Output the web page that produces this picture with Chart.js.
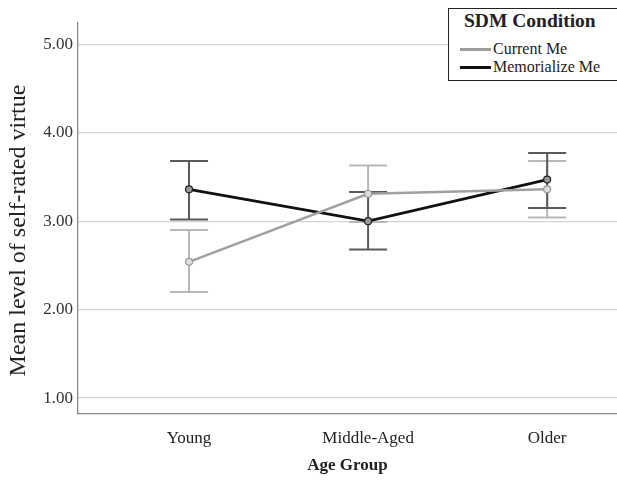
<!DOCTYPE html>
<html>
<head>
<meta charset="utf-8">
<script src="https://cdn.jsdelivr.net/npm/chart.js@4"></script>
<style>
  html, body { margin: 0; padding: 0; background: #fff; }
  #wrap { position: relative; width: 617px; height: 480px; overflow: hidden; }
  canvas { display: block; }
  #legend { position: absolute; left: 448px; top: 8px; width: 180px; height: 71px;
    border: 1.5px solid #222; background: #fff; font-family: "Liberation Serif", "DejaVu Serif", serif; color: #222; }
  #legend .t { position: absolute; left: 15px; top: 1px; font-weight: bold; font-size: 19.5px; }
  #legend .e { position: absolute; left: 11px; font-size: 16px; white-space: nowrap; }
  #legend .e span.s { display: inline-block; width: 31px; height: 3px; vertical-align: middle; margin-right: 2px; position: relative; top: -1px; }
</style>
</head>
<body>
<div id="wrap">
  <canvas id="c" width="617" height="480"></canvas>
  <div id="legend">
    <div class="t">SDM Condition</div>
    <div class="e" style="top:31px"><span class="s" style="background:#9e9e9e"></span>Current Me</div>
    <div class="e" style="top:49px"><span class="s" style="background:#111"></span>Memorialize Me</div>
  </div>
</div>
<script>
const categories = ["Young", "Middle-Aged", "Older"];
const yTicks = [1, 2, 3, 4, 5];
const currentMean = [2.54, 3.31, 3.36];
const currentLow = [2.20, 2.99, 3.04];
const currentHigh = [2.90, 3.63, 3.68];
const memorialMean = [3.36, 3.00, 3.47];
const memorialLow = [3.02, 2.68, 3.15];
const memorialHigh = [3.68, 3.33, 3.77];

const serif = '"Liberation Serif", "DejaVu Serif", serif';

function toPts(arr) { return arr.map((v, i) => ({ x: i + 1, y: v })); }

const errorBars = {
  id: 'errorBars',
  beforeDatasetsDraw(chart) {
    const ctx = chart.ctx;
    const xs = chart.scales.x, ys = chart.scales.y;
    const sets = [
      { lo: currentLow, hi: currentHigh, color: '#b8b8b8' },
      { lo: memorialLow, hi: memorialHigh, color: '#5a5a5a' }
    ];
    ctx.save();
    ctx.lineWidth = 2;
    sets.forEach(s => {
      ctx.strokeStyle = s.color;
      s.lo.forEach((lo, i) => {
        const x = xs.getPixelForValue(i + 1);
        const y1 = ys.getPixelForValue(lo);
        const y2 = ys.getPixelForValue(s.hi[i]);
        const hw = 19;
        ctx.beginPath();
        ctx.moveTo(x, y1); ctx.lineTo(x, y2);
        ctx.moveTo(x - hw, y1); ctx.lineTo(x + hw, y1);
        ctx.moveTo(x - hw, y2); ctx.lineTo(x + hw, y2);
        ctx.stroke();
      });
    });
    ctx.restore();
  }
};

new Chart(document.getElementById('c'), {
  type: 'scatter',
  data: {
    datasets: [
      { label: 'Current Me', data: toPts(currentMean), showLine: true, borderColor: '#a0a0a0', backgroundColor: '#d0d0d0',
        borderWidth: 2.5, pointRadius: 3.5, pointBorderWidth: 1.2, pointBorderColor: '#999', pointBackgroundColor: '#ddd' },
      { label: 'Memorialize Me', data: toPts(memorialMean), showLine: true, borderColor: '#111', backgroundColor: '#888',
        borderWidth: 2.8, pointRadius: 3.5, pointBorderWidth: 1.2, pointBorderColor: '#222', pointBackgroundColor: '#999' }
    ]
  },
  options: {
    responsive: false,
    animation: false,
    layout: { autoPadding: false, padding: { top: 23, right: 0, left: 0, bottom: 0 } },
    plugins: { legend: { display: false }, tooltip: { enabled: false } },
    scales: {
      x: {
        type: 'linear', min: 0.38, max: 3.39,
        afterBuildTicks(scale) { scale.ticks = categories.map((c, i) => ({ value: i + 1 })); },
        afterFit(scale) { scale.height = 66; scale.paddingLeft = 0; scale.paddingRight = 0; },
        ticks: { callback: (v) => categories[v - 1] || '', color: '#222', font: { family: serif, size: 17 }, padding: 6, maxRotation: 0 },
        grid: { display: false },
        border: { display: true, color: '#888', width: 1.3 },
        title: { display: true, text: 'Age Group', color: '#222', font: { family: serif, size: 17, weight: 'bold' }, padding: { top: 6 } }
      },
      y: {
        min: 0.82, max: 5.24,
        afterBuildTicks(scale) { scale.ticks = yTicks.map(v => ({ value: v })); },
        afterFit(scale) { scale.width = 78; scale.paddingTop = 0; scale.paddingBottom = 0; },
        ticks: { callback: (v) => v.toFixed(2), color: '#333', font: { family: serif, size: 17 }, padding: 5 },
        grid: { color: '#d4d4d4', lineWidth: 1.2, drawTicks: false },
        border: { display: true, color: '#888', width: 1.3 },
        title: { display: true, text: 'Mean level of self-rated virtue    ', color: '#222', font: { family: serif, size: 24 }, padding: { bottom: 0, top: 4 } }
      }
    }
  },
  plugins: [errorBars]
});
</script>
</body>
</html>
